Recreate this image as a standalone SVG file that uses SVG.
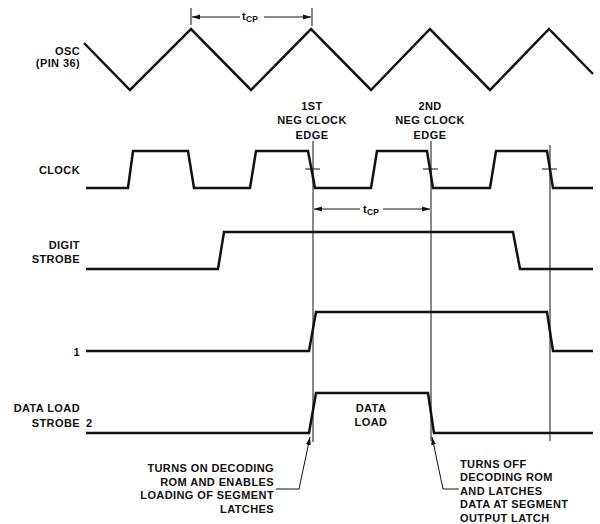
<svg xmlns="http://www.w3.org/2000/svg" width="600" height="524" viewBox="0 0 600 524">
<style>
text{font-family:"Liberation Sans",Arial,sans-serif;font-size:11px;font-weight:bold;fill:#111;letter-spacing:0.4px}
.r{text-anchor:end}
.m{text-anchor:middle}
.sig{fill:none;stroke:#111;stroke-width:2.5;stroke-linejoin:miter}
.thin{fill:none;stroke:#111;stroke-width:1}
.sub{font-size:8.5px;letter-spacing:0}
</style>
<defs>
<marker id="ah" viewBox="0 0 8 6" refX="8" refY="3" markerWidth="8" markerHeight="6" markerUnits="userSpaceOnUse" orient="auto">
<path d="M0,0.5 L8,3 L0,5.5 z" fill="#111"/>
</marker>
</defs>
<rect width="600" height="524" fill="#fff"/>

<g id="osc">
<text class="r" x="80" y="55">OSC</text>
<text class="r" x="80" y="67">(PIN 36)</text>
<polyline class="sig" points="84,43 130,90 191,29 251,90 311,29 371,90 430,29 490,90 549,29 593,74"/>
</g>

<g id="edge-labels">
<text class="m" x="312" y="109.5">1ST</text>
<text class="m" x="312" y="124">NEG CLOCK</text>
<text class="m" x="312" y="139">EDGE</text>
<text class="m" x="430" y="109.5">2ND</text>
<text class="m" x="430" y="124">NEG CLOCK</text>
<text class="m" x="430" y="139">EDGE</text>
</g>

<g id="clock">
<text class="r" x="80" y="174">CLOCK</text>
<polyline class="sig" points="86,188 128,188 133,151 188,151 194,188 250,188 256,151 308,151 315,188 371,188 377,151 427,151 433,188 490,188 496,151 547,151 553,188 593,188"/>
<line class="thin" x1="305" y1="169" x2="320" y2="169"/>
<line class="thin" x1="423" y1="169" x2="438" y2="169"/>
<line class="thin" x1="542" y1="169" x2="557" y2="169"/>
</g>

<g id="digit-strobe">
<text class="r" x="80" y="248.5">DIGIT</text>
<text class="r" x="80" y="262.5">STROBE</text>
<polyline class="sig" points="86,269 218,269 224,232 513,232 520,269 593,269"/>
</g>

<g id="signal-1">
<text class="r" x="80" y="355.5">1</text>
<polyline class="sig" points="86,351 309,351 316,312 547,312 553,351 593,351"/>
</g>

<g id="data-load-strobe">
<text class="r" x="80" y="411.5">DATA LOAD</text>
<text class="r" x="80" y="426.5">STROBE</text>
<text x="86" y="426.5">2</text>
<polyline class="sig" points="86,433 309,433 316,393 428,393 434,433 593,433"/>
<text class="m" x="371" y="411.5">DATA</text>
<text class="m" x="371" y="426">LOAD</text>
</g>

<g id="note-on">
<text class="r" x="274" y="472">TURNS ON DECODING</text>
<text class="r" x="274" y="485.5">ROM AND ENABLES</text>
<text class="r" x="274" y="499">LOADING OF SEGMENT</text>
<text class="r" x="274" y="512.5">LATCHES</text>
</g>

<g id="note-off">
<text x="460" y="467.5">TURNS OFF</text>
<text x="460" y="481">DECODING ROM</text>
<text x="460" y="494.5">AND LATCHES</text>
<text x="460" y="508">DATA AT SEGMENT</text>
<text x="460" y="521.5">OUTPUT LATCH</text>
</g>

<g id="tcp-labels">
<text x="242" y="19.5">t<tspan class="sub" dy="2">CP</tspan></text>
<text x="363" y="212.5">t<tspan class="sub" dy="2">CP</tspan></text>
</g>

<g id="connectors">
<line class="thin" x1="313" y1="141" x2="313" y2="442"/>
<line class="thin" x1="431" y1="141" x2="431" y2="441"/>
<line class="thin" x1="550" y1="145" x2="550" y2="441"/>
<line class="thin" x1="191" y1="8" x2="191" y2="25"/>
<line class="thin" x1="312" y1="8" x2="312" y2="26"/>
<line class="thin" x1="240" y1="17" x2="192" y2="17" marker-end="url(#ah)"/>
<line class="thin" x1="264" y1="17" x2="311" y2="17" marker-end="url(#ah)"/>
<line class="thin" x1="360" y1="209" x2="314" y2="209" marker-end="url(#ah)"/>
<line class="thin" x1="383" y1="209" x2="430" y2="209" marker-end="url(#ah)"/>
<polyline class="thin" points="276,489 299,489 310,437" marker-end="url(#ah)"/>
<polyline class="thin" points="459,489 443,489 432,437" marker-end="url(#ah)"/>
</g>
</svg>
